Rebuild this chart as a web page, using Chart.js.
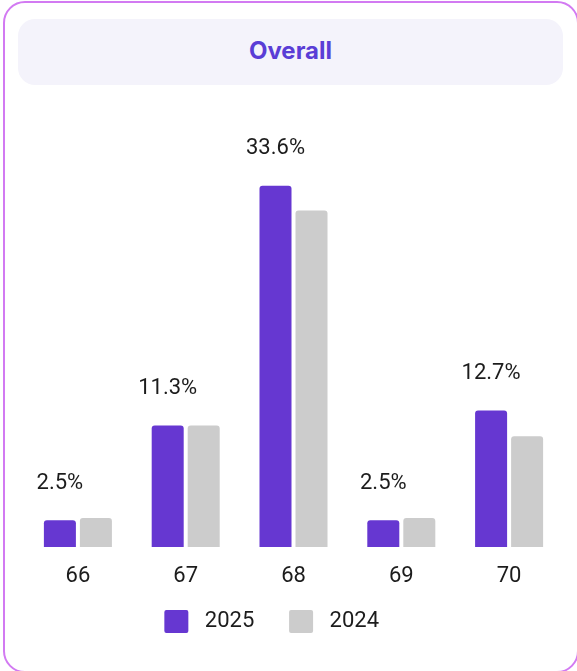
<!DOCTYPE html>
<html>
<head>
<meta charset="utf-8">
<script src="https://cdn.jsdelivr.net/npm/chart.js@4/dist/chart.umd.min.js"></script>
<style>
  html, body { margin: 0; padding: 0; background: #ffffff; }
  body { width: 577px; height: 671px; position: relative; overflow: hidden; }
  .card {
    position: absolute; left: 3px; top: 1px; width: 576px; height: 672px;
    box-sizing: border-box; border: 2px solid #d27af2; border-radius: 22px;
  }
  .title {
    position: absolute; left: 18px; top: 19px; width: 545px; height: 66px;
    background: #f4f3fb; border-radius: 17px;
    font-family: Inter, Roboto, sans-serif; font-weight: 700; font-size: 24px;
    color: #5a3dd6; text-align: center; line-height: 64px;
  }
  #chart { position: absolute; left: 0; top: 0; }
</style>
</head>
<body>
<div class="card"></div>
<div class="title">Overall</div>
<canvas id="chart" width="577" height="671"></canvas>
<script>
// Share of respondents by age, current year vs previous year
const categories = ['66', '67', '68', '69', '70'];
const seriesNames = ['2025', '2024'];
const values2025 = [2.5, 11.3, 33.6, 2.5, 12.7];
const values2024 = [2.7, 11.3, 31.3, 2.7, 10.3];

const PURPLE = '#6637d1';
const GREY = '#cccccc';
const TEXT = '#1c1c1c';
const FONT = 'Roboto, sans-serif';

// Percentage labels above the current-year bars
const valueLabels = {
  id: 'valueLabels',
  afterDatasetsDraw(chart) {
    const ctx = chart.ctx;
    const meta = chart.getDatasetMeta(0);
    ctx.save();
    ctx.font = '22px ' + FONT;
    ctx.fillStyle = TEXT;
    ctx.textAlign = 'center';
    ctx.textBaseline = 'middle';
    meta.data.forEach((bar, i) => {
      ctx.fillText(values2025[i].toFixed(1) + '%', bar.x, bar.y - 37);
    });
    ctx.restore();
  }
};

new Chart(document.getElementById('chart'), {
  type: 'bar',
  data: {
    labels: categories,
    datasets: [
      { label: seriesNames[0], data: values2025, backgroundColor: PURPLE },
      { label: seriesNames[1], data: values2024, backgroundColor: GREY }
    ]
  },
  options: {
    responsive: false,
    animation: false,
    layout: { padding: { top: 117, left: 24, right: 14, bottom: 28 } },
    datasets: {
      bar: {
        categoryPercentage: 0.668,
        barPercentage: 0.889,
        borderRadius: 3,
        borderSkipped: 'start'
      }
    },
    scales: {
      x: {
        grid: { display: false },
        border: { display: false },
        ticks: { color: TEXT, font: { family: FONT, size: 22 }, padding: 8 },
        afterFit(scale) { scale.height = 50; }
      },
      y: { display: false, min: 0, max: 40 }
    },
    plugins: {
      tooltip: { enabled: false },
      legend: {
        position: 'bottom',
        labels: {
          color: TEXT,
          font: { family: FONT, size: 22 },
          boxWidth: 24,
          boxHeight: 23,
          padding: 13,
          useBorderRadius: true,
          borderRadius: 2,
          generateLabels(chart) {
            const items = Chart.defaults.plugins.legend.labels.generateLabels(chart);
            items.forEach((item, i) => {
              item.text = ' ' + item.text + (i === items.length - 1 ? '        ' : '    ');
              item.lineWidth = 0;
            });
            return items;
          }
        }
      }
    }
  },
  plugins: [valueLabels]
});
</script>
</body>
</html>
